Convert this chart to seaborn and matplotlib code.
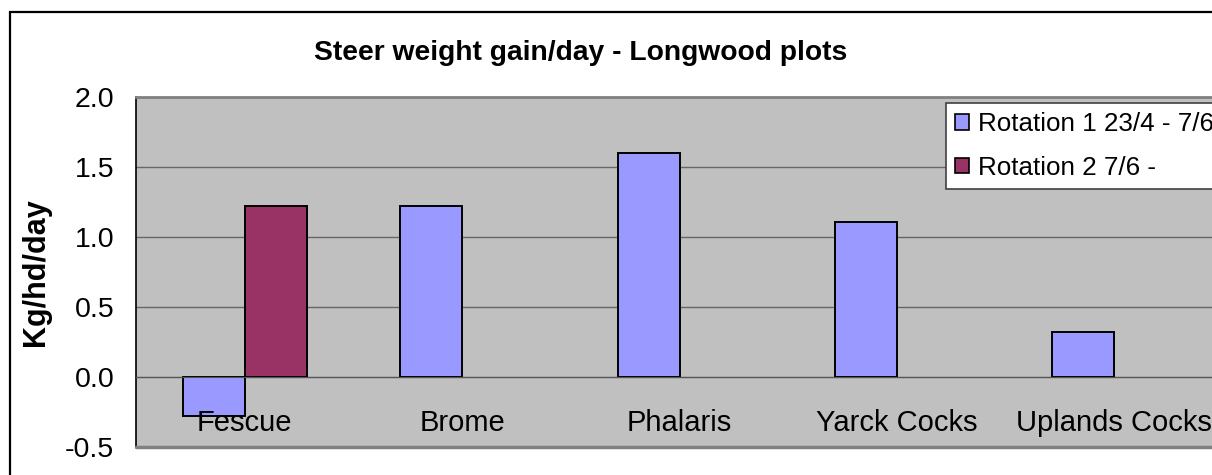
import matplotlib
matplotlib.use("Agg")
import matplotlib.pyplot as plt
import seaborn as sns
import pandas as pd
import numpy as np
from matplotlib.patches import Rectangle

categories = ["Fescue", "Brome", "Phalaris", "Yarck Cocks", "Uplands Cocks"]
rotation1 = [-0.28, 1.22, 1.60, 1.11, 0.32]
rotation2 = [1.22, np.nan, np.nan, np.nan, np.nan]
series_names = ["Rotation 1 23/4 - 7/6", "Rotation 2 7/6 -"]
yticks = [-0.5, 0.0, 0.5, 1.0, 1.5, 2.0]
title = "Steer weight gain/day - Longwood plots"
ylabel = "Kg/hd/day"

df = pd.DataFrame({
    "cat": categories * 2,
    "val": rotation1 + rotation2,
    "series": [series_names[0]] * 5 + [series_names[1]] * 5,
})

sns.set_style("white")
plt.rcParams["font.family"] = ["Liberation Sans", "DejaVu Sans"]
plt.rcParams["text.color"] = "black"
plt.rcParams["axes.labelcolor"] = "black"
plt.rcParams["xtick.color"] = "black"
plt.rcParams["ytick.color"] = "black"

W, H = 1212, 475
fig = plt.figure(figsize=(W / 100, H / 100), dpi=100)
ax = fig.add_axes([136 / W, 1 - 447 / H, (1223 - 136) / W, 350 / H])
ax.set_facecolor("#C0C0C0")

sns.barplot(data=df, x="cat", y="val", hue="series", order=categories,
            hue_order=series_names, palette=["#9999FF", "#993366"],
            width=0.57, edgecolor="black", linewidth=1.4, saturation=1,
            ax=ax, zorder=3)

ax.set_ylim(-0.5, 2.0)
ax.set_xlim(-0.5, len(categories) - 0.5)
ax.set_yticks(yticks)
ax.set_yticklabels([f"{v:.1f}" for v in yticks], fontsize=20.5)
ax.yaxis.grid(True, color="#666666", linewidth=1.0, zorder=0)
ax.set_axisbelow(True)

# category axis on the zero line
ax.spines["bottom"].set_position(("data", 0))
ax.spines["bottom"].set_color("#555555")
ax.spines["bottom"].set_zorder(4)
ax.set_xticks(range(len(categories)))
ax.set_xticklabels(categories, fontsize=21)
ax.set_xticks(np.arange(-0.5, len(categories), 1.0), minor=True)
ax.tick_params(axis="x", which="major", length=0, pad=23)
ax.tick_params(axis="x", which="minor", length=8, direction="out", color="#444444")
ax.tick_params(axis="y", length=7.5, direction="out", color="#444444", width=1, pad=8)
ax.xaxis.set_zorder(6)
ax.set_xlabel("")
ax.set_ylabel(ylabel, fontsize=22, fontweight="bold", labelpad=10)

ax.spines["left"].set_color("black")
ax.spines["left"].set_linewidth(1.2)
ax.spines["top"].set_color("#808080")
ax.spines["top"].set_linewidth(2)
ax.spines["right"].set_visible(False)
ax.axhline(-0.5, color="#808080", linewidth=2.5, clip_on=False, zorder=5)

# legend
leg = ax.legend(loc="upper left", bbox_to_anchor=(946 / W, 1 - 103 / H),
                bbox_transform=fig.transFigure, fontsize=18.7, frameon=True,
                fancybox=False, framealpha=1, handlelength=0.55,
                handleheight=0.55, handletextpad=0.35, borderpad=0.35,
                labelspacing=0.75, borderaxespad=0)
leg.get_frame().set_edgecolor("#404040")
leg.get_frame().set_linewidth(1.2)
leg.get_frame().set_facecolor("white")
leg.set_zorder(10)
for h in leg.legend_handles:
    h.set_edgecolor("black")
    h.set_linewidth(1.2)

fig.text(581 / W, 1 - 53 / H, title, ha="center", va="center",
         fontsize=20.3, fontweight="bold")

# outer chart frame
fig.patches.append(Rectangle((10 / W, -0.1), 1.2, 1 - 12 / H + 0.1,
                             transform=fig.transFigure, fill=False,
                             edgecolor="black", linewidth=1.6, zorder=10))

fig.savefig("out.png", dpi=100)
